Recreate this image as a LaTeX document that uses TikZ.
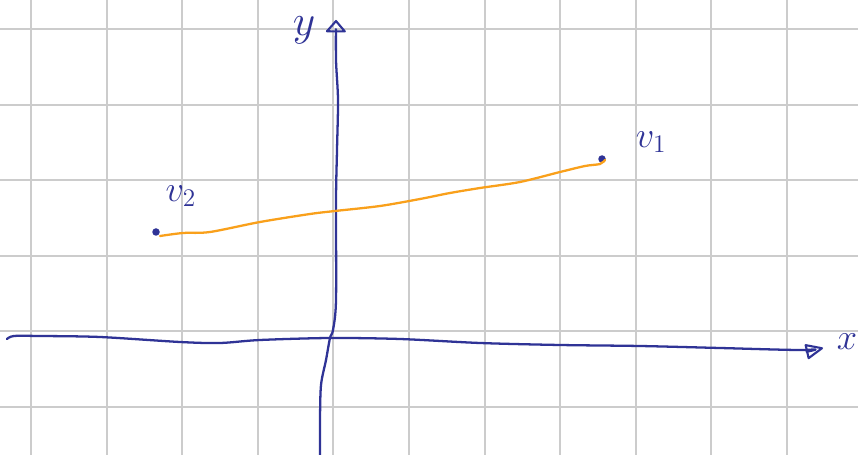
\documentclass[tikz,border=0pt]{standalone}
\usetikzlibrary{arrows.meta,positioning}
\definecolor{cPen}{HTML}{2F3396}
\definecolor{cSeg}{HTML}{F9A01B}
\definecolor{cGrid}{HTML}{CCCCCC}
\tikzset{
  gridline/.style={cGrid, line width=1.1pt},
  axis/.style={cPen, line width=1.3pt, line cap=round, line join=round},
  xtip/.style={-{Triangle[open, length=3.8mm, width=3.2mm, line width=1.2pt, round]}},
  ytip/.style={-{Triangle[open, length=2.6mm, width=4.4mm, line width=1.2pt, round]}},
  seg/.style={cSeg, line width=1.3pt, line cap=round},
  pt/.style={circle, fill=cPen, inner sep=0pt, minimum size=1.5mm},
  lbl/.style={text=cPen, inner sep=0pt, font=\fontsize{22}{24}\selectfont},
}
\begin{document}
\begin{tikzpicture}[x=0.02cm, y=-0.02cm]
  \useasboundingbox (0,0) rectangle (858,455);
  \fill[white] (0,0) rectangle (858,455);
  % grid
  \foreach \i in {0,...,10}
    \draw[gridline] (31+75.6*\i, 0) -- (31+75.6*\i, 455);
  \foreach \j in {0,...,5}
    \draw[gridline] (0, 29+75.6*\j) -- (858, 29+75.6*\j);
  % axes
  \draw[axis, xtip] plot[smooth] coordinates {(7,339) (14,336) (40,336) (100,337) (180,342) (220,343) (260,340) (330,338) (400,339) (480,343) (560,345) (640,346) (720,348) (800,350) (823,348)};
  \draw[axis, ytip] plot[smooth] coordinates {(320,455) (320,420) (321,385) (326,360) (330,338) (333,330) (336,300) (336,200) (337,150) (338,100) (336,60) (336,20)};
  \node[lbl, font=\fontsize{30}{32}\selectfont] (ylab) at (304,30) {$y$};
  \node[lbl] (xlab) at (847,342) {$x$};
  % points
  \node[pt] (v1) at (602,159) {};
  \node[pt] (v2) at (156,232) {};
  \node[lbl] (v1lab) at (651,142) {$v_1$};
  \node[lbl] (v2lab) at (181,196) {$v_2$};
  \draw[seg] plot[smooth] coordinates {(160,236) (183,233) (210,232) (260,222) (310,214) (335,211) (380,206) (420,199) (450,193) (480,188) (520,182) (560,172) (585,166) (600,164) (605,160)};
\end{tikzpicture}
\end{document}
